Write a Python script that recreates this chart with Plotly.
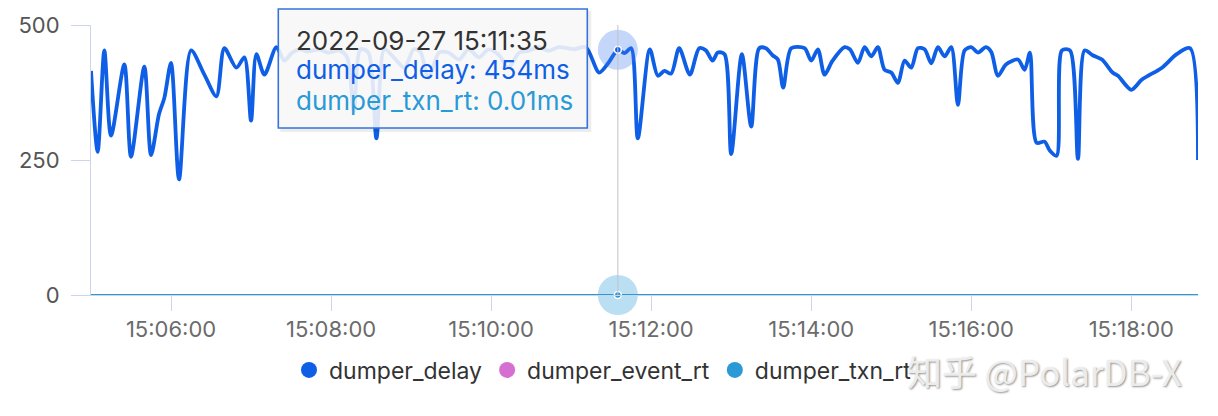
import plotly.graph_objects as go

DATE = "2022-09-27 "

delay_times = [
    "15:05:00", "15:05:05", "15:05:10", "15:05:15", "15:05:25", "15:05:30", "15:05:40", "15:05:45",
    "15:05:51", "15:05:55", "15:06:00", "15:06:06", "15:06:15", "15:06:25", "15:06:34", "15:06:40",
    "15:06:49", "15:06:55", "15:07:00", "15:07:04", "15:07:10", "15:07:19", "15:07:25", "15:07:30",
    "15:07:36", "15:07:43", "15:07:51", "15:07:58", "15:08:06", "15:08:12", "15:08:17", "15:08:22",
    "15:08:28", "15:08:34", "15:08:40", "15:08:47", "15:08:55", "15:09:02", "15:09:07", "15:09:13",
    "15:09:21", "15:09:28", "15:09:36", "15:09:43", "15:09:51", "15:09:58", "15:10:06", "15:10:13",
    "15:10:21", "15:10:28", "15:10:36", "15:10:43", "15:10:51", "15:11:02", "15:11:11", "15:11:21",
    "15:11:28", "15:11:35", "15:11:40", "15:11:45", "15:11:50", "15:11:59", "15:12:05", "15:12:10",
    "15:12:15", "15:12:21", "15:12:29", "15:12:36", "15:12:41", "15:12:46", "15:12:50", "15:12:55",
    "15:13:00", "15:13:08", "15:13:15", "15:13:21", "15:13:26", "15:13:31", "15:13:35", "15:13:39",
    "15:13:45", "15:13:55", "15:14:00", "15:14:05", "15:14:10", "15:14:16", "15:14:25", "15:14:29",
    "15:14:35", "15:14:40", "15:14:45", "15:14:50", "15:14:55", "15:15:00", "15:15:05", "15:15:10",
    "15:15:15", "15:15:20", "15:15:25", "15:15:30", "15:15:35", "15:15:40", "15:15:45", "15:15:50",
    "15:15:55", "15:16:00", "15:16:05", "15:16:11", "15:16:15", "15:16:20", "15:16:26", "15:16:35",
    "15:16:40", "15:16:44", "15:16:49", "15:16:55", "15:16:59", "15:17:04", "15:17:08", "15:17:14",
    "15:17:20", "15:17:25", "15:17:31", "15:17:38", "15:17:46", "15:17:50", "15:18:00", "15:18:08",
    "15:18:23", "15:18:34", "15:18:44", "15:18:50",
]
delay_values = [
    415, 265, 453, 295, 427, 256, 423, 259,
    335, 365, 430, 214, 453, 408, 368, 457,
    421, 440, 323, 446, 408, 459, 434, 447,
    455, 451, 455, 449, 453, 440, 340, 455,
    449, 290, 455, 440, 421, 455, 450, 402,
    449, 449, 436, 455, 440, 455, 444, 421,
    449, 452, 459, 452, 459, 455, 459, 412,
    430, 454, 448, 457, 290, 455, 406, 415,
    410, 457, 408, 457, 453, 434, 449, 446,
    261, 446, 312, 457, 457, 444, 436, 384,
    457, 457, 434, 455, 408, 434, 459, 455,
    430, 459, 442, 459, 417, 412, 393, 434,
    421, 457, 455, 429, 459, 442, 459, 352,
    453, 459, 449, 459, 450, 406, 427, 436,
    417, 449, 282, 284, 267, 258, 453, 453,
    252, 453, 444, 436, 412, 406, 380, 399,
    421, 446, 457, 250,
]

# event_rt and txn_rt sit on the zero line for the whole window
event_rt_times = ["15:05:00", "15:18:50"]
event_rt_values = [0.0, 0.0]
txn_rt_times = ["15:05:00", "15:18:50"]
txn_rt_values = [0.01, 0.01]

hover_time = "15:11:35"
hover_delay = 454
hover_txn = 0.01

series_names = ["dumper_delay", "dumper_event_rt", "dumper_txn_rt"]
x_ticks = ["15:06:00", "15:08:00", "15:10:00", "15:12:00", "15:14:00", "15:16:00", "15:18:00"]
y_ticks = [0, 250, 500]
x_range = ["15:05:00", "15:18:50"]

C_DELAY = "#0F5FE6"
C_EVENT = "#D66FD2"
C_TXN = "#2A9AD6"
AXIS = "#CCD6EB"
FONT = "Inter"

# page has an 8px body margin: keep the whole document inside the 1218x416 window
PAGE_OFF = 8
FIG_W, FIG_H = 1218 - 2 * PAGE_OFF, 416 - 2 * PAGE_OFF
# plot area in page pixels
PL, PR, PT, PB = 90.7, 1197.7, 25.0, 295.0

ts = lambda t: DATE + t

fig = go.Figure()

fig.add_trace(go.Scatter(
    x=[ts(t) for t in delay_times], y=delay_values, mode="lines",
    line=dict(color=C_DELAY, width=3.8, shape="spline", smoothing=0.8),
    showlegend=False, hoverinfo="skip"))
fig.add_trace(go.Scatter(
    x=[ts(t) for t in event_rt_times], y=event_rt_values, mode="lines",
    line=dict(color=C_EVENT, width=2), showlegend=False, hoverinfo="skip", cliponaxis=False))
fig.add_trace(go.Scatter(
    x=[ts(t) for t in txn_rt_times], y=txn_rt_values, mode="lines",
    line=dict(color=C_TXN, width=2), showlegend=False, hoverinfo="skip", cliponaxis=False))

# hover halo + dots
fig.add_trace(go.Scatter(
    x=[ts(hover_time), ts(hover_time)], y=[hover_delay, hover_txn], mode="markers",
    marker=dict(size=40, color=["rgba(60,120,235,0.30)", "rgba(42,154,214,0.32)"]),
    showlegend=False, hoverinfo="skip", cliponaxis=False))
fig.add_trace(go.Scatter(
    x=[ts(hover_time), ts(hover_time)], y=[hover_delay, hover_txn], mode="markers",
    marker=dict(size=7, color=[C_DELAY, C_TXN], line=dict(color="white", width=1.5)),
    showlegend=False, hoverinfo="skip", cliponaxis=False))

# legend entries
for name, col in zip(series_names, [C_DELAY, C_EVENT, C_TXN]):
    fig.add_trace(go.Scatter(x=[None], y=[None], mode="markers", name=name,
                             marker=dict(size=18, color=col, symbol="circle")))

# crosshair
fig.add_shape(type="line", x0=ts(hover_time), x1=ts(hover_time), xref="x", yref="paper",
              y0=0, y1=1, line=dict(color="#BFC3C9", width=1), layer="above")

def px_x(p):
    return (p - PL) / (PR - PL)

def px_y(p):
    return (PB - p) / (PB - PT)

fig.add_shape(type="rect", xref="paper", yref="paper",
              x0=px_x(280), x1=px_x(591), y0=px_y(132), y1=px_y(11),
              line=dict(width=0), fillcolor="rgba(0,0,0,0.07)", layer="above")
fig.add_shape(type="rect", xref="paper", yref="paper",
              x0=px_x(278), x1=px_x(587), y0=px_y(128), y1=px_y(9),
              line=dict(color="#3473DE", width=1.6), fillcolor="rgba(249,249,250,0.88)", layer="above")

tip_lines = [
    (DATE + hover_time, "#333333", 40),
    (f"{series_names[0]}: {hover_delay}ms", C_DELAY, 70),
    (f"{series_names[2]}: {hover_txn}ms", C_TXN, 100),
]
for txt, col, yy in tip_lines:
    fig.add_annotation(text=txt, xref="paper", yref="paper", x=px_x(294), y=px_y(yy),
                       xanchor="left", yanchor="middle", showarrow=False,
                       font=dict(family=FONT, size=26, color=col))

# watermark
fig.add_annotation(text="知乎 @PolarDB-X", xref="paper", yref="paper",
                   x=px_x(1044), y=px_y(370), xanchor="center", yanchor="middle", showarrow=False,
                   font=dict(family="Noto Sans CJK SC, Noto Sans", size=35, color="rgba(240,240,240,0.95)",
                             shadow="1px 1px 2px rgba(0,0,0,0.45)"))

fig.update_layout(
    width=FIG_W, height=FIG_H,
    margin=dict(l=PL - PAGE_OFF, r=(FIG_W + PAGE_OFF) - PR,
                t=PT - PAGE_OFF, b=(FIG_H + PAGE_OFF) - PB, autoexpand=False),
    paper_bgcolor="white", plot_bgcolor="white",
    font=dict(family=FONT, size=22, color="#666666"),
    showlegend=True,
    legend=dict(orientation="h", xref="container", yref="container",
                x=(603 - PAGE_OFF) / FIG_W, y=(FIG_H + PAGE_OFF - 370) / FIG_H,
                xanchor="center", yanchor="middle", font=dict(family=FONT, size=23, color="#333333"),
                itemsizing="trace", bgcolor="rgba(0,0,0,0)"),
    xaxis=dict(
        type="date", range=[ts(x_range[0]), ts(x_range[1])],
        tickvals=[ts(t) for t in x_ticks], ticktext=x_ticks,
        showgrid=False, zeroline=False, showline=True, linecolor=AXIS, linewidth=1,
        ticks="outside", ticklen=15, tickcolor=AXIS, tickwidth=1,
        tickfont=dict(family=FONT, size=22, color="#6b6b6b"),
    ),
    yaxis=dict(
        range=[0, 500], tickvals=y_ticks, ticktext=[str(v) for v in y_ticks],
        showgrid=False, zeroline=False, showline=True, linecolor=AXIS, linewidth=1,
        ticks="outside", ticklen=19, tickcolor=AXIS, tickwidth=1, ticklabelstandoff=7,
        tickfont=dict(family=FONT, size=22, color="#555555"),
    ),
)

fig.write_html("out.html")
